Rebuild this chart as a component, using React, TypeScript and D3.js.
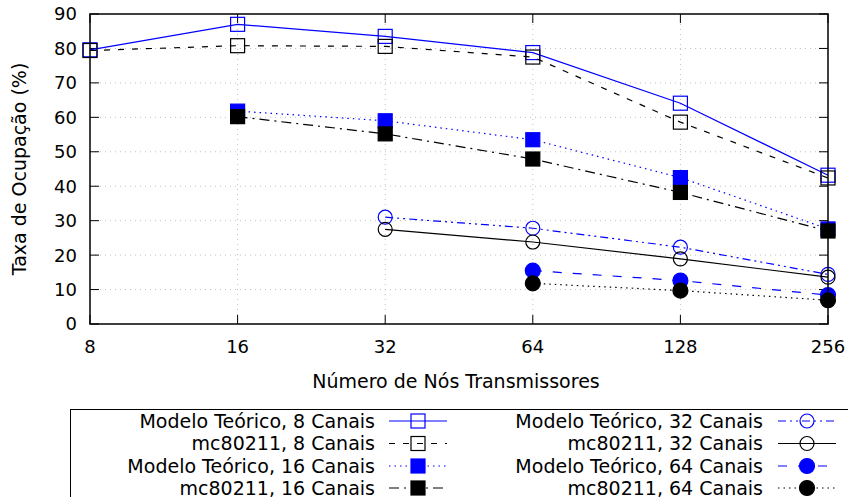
import { useEffect, useRef } from "react";
import * as d3 from "d3";

const nodes = [8, 16, 32, 64, 128, 256];
const yTicks = [0, 10, 20, 30, 40, 50, 60, 70, 80, 90];

const teorico8 = [79.6, 87.0, 83.5, 78.8, 64.1, 43.2];
const mc8 = [79.4, 80.8, 80.6, 77.5, 58.6, 42.4];
const teorico16 = [null, 61.8, 59.0, 53.5, 42.5, 27.6];
const mc16 = [null, 60.2, 55.2, 47.9, 38.2, 27.0];
const teorico32 = [null, null, 31.0, 27.8, 22.3, 14.4];
const mc32 = [null, null, 27.5, 23.8, 18.9, 13.6];
const teorico64 = [null, null, null, 15.5, 12.6, 8.4];
const mc64 = [null, null, null, 11.8, 9.7, 6.9];

const seriesNames = [
  "Modelo Teórico, 8 Canais",
  "mc80211, 8 Canais",
  "Modelo Teórico, 16 Canais",
  "mc80211, 16 Canais",
  "Modelo Teórico, 32 Canais",
  "mc80211, 32 Canais",
  "Modelo Teórico, 64 Canais",
  "mc80211, 64 Canais",
];

const FONT = "'DejaVu Sans', sans-serif";

const styles = [
  { values: teorico8, color: "#0000ff", dash: null, marker: "square", filled: false },
  { values: mc8, color: "#000000", dash: "6,8", marker: "square", filled: false },
  { values: teorico16, color: "#0000ff", dash: "1.5,4", marker: "square", filled: true },
  { values: mc16, color: "#000000", dash: "10,5,2,5", marker: "square", filled: true },
  { values: teorico32, color: "#0000ff", dash: "8,4,2,4,2,4", marker: "circle", filled: false },
  { values: mc32, color: "#000000", dash: null, marker: "circle", filled: false },
  { values: teorico64, color: "#0000ff", dash: "9,11", marker: "circle", filled: true },
  { values: mc64, color: "#000000", dash: "1.5,4", marker: "circle", filled: true },
];

function drawMarker(g, type, filled, color, cx, cy) {
  if (type === "square") {
    g.append("rect")
      .attr("x", cx - 7)
      .attr("y", cy - 7)
      .attr("width", 14)
      .attr("height", 14)
      .attr("fill", filled ? color : "none")
      .attr("stroke", color)
      .attr("stroke-width", 1.2);
  } else {
    g.append("circle")
      .attr("cx", cx)
      .attr("cy", cy)
      .attr("r", filled ? 7.5 : 7)
      .attr("fill", filled ? color : "none")
      .attr("stroke", color)
      .attr("stroke-width", 1.2);
  }
}

function App() {
  const svgRef = useRef(null);

  useEffect(() => {
    const svg = d3.select(svgRef.current);
    svg.selectAll("*").remove();

    const left = 90, right = 828, top = 14, bottom = 324;

    const x = d3.scaleLog().base(2).domain([8, 256]).range([left, right]);
    const y = d3.scaleLinear().domain([0, 90]).range([bottom, top]);

    // grid
    const grid = svg.append("g")
      .attr("stroke", "#c0c0c0")
      .attr("stroke-width", 1)
      .attr("stroke-dasharray", "1,4");
    yTicks.slice(1, -1).forEach((t) => {
      grid.append("line").attr("x1", left).attr("x2", right).attr("y1", y(t)).attr("y2", y(t));
    });
    nodes.slice(1, -1).forEach((t) => {
      grid.append("line").attr("x1", x(t)).attr("x2", x(t)).attr("y1", top).attr("y2", bottom);
    });

    // ticks
    const ticks = svg.append("g").attr("stroke", "#000").attr("stroke-width", 1);
    yTicks.forEach((t) => {
      ticks.append("line").attr("x1", left).attr("x2", left + 9).attr("y1", y(t)).attr("y2", y(t));
      ticks.append("line").attr("x1", right).attr("x2", right - 9).attr("y1", y(t)).attr("y2", y(t));
    });
    nodes.forEach((t) => {
      ticks.append("line").attr("x1", x(t)).attr("x2", x(t)).attr("y1", bottom).attr("y2", bottom - 9);
      ticks.append("line").attr("x1", x(t)).attr("x2", x(t)).attr("y1", top).attr("y2", top + 9);
    });

    // tick labels
    svg.append("g")
      .selectAll("text")
      .data(yTicks)
      .enter()
      .append("text")
      .attr("x", left - 13)
      .attr("y", (d) => y(d))
      .attr("dy", "0.36em")
      .attr("text-anchor", "end")
      .attr("font-family", FONT)
      .attr("font-size", 18)
      .text((d) => d);

    svg.append("g")
      .selectAll("text")
      .data(nodes)
      .enter()
      .append("text")
      .attr("x", (d) => x(d))
      .attr("y", 353)
      .attr("text-anchor", "middle")
      .attr("font-family", FONT)
      .attr("font-size", 18)
      .text((d) => d);

    svg.append("text")
      .attr("x", 456)
      .attr("y", 388)
      .attr("text-anchor", "middle")
      .attr("font-family", FONT)
      .attr("font-size", 19)
      .text("Número de Nós Transmissores");

    svg.append("text")
      .attr("transform", `translate(26, ${(top + bottom) / 2}) rotate(-90)`)
      .attr("text-anchor", "middle")
      .attr("font-family", FONT)
      .attr("font-size", 19)
      .text("Taxa de Ocupação (%)");

    // series
    const line = d3
      .line()
      .x((d) => x(d[0]))
      .y((d) => y(d[1]));

    styles.forEach((s) => {
      const pts = nodes.map((n, i) => [n, s.values[i]]).filter((p) => p[1] != null);
      svg.append("path")
        .datum(pts)
        .attr("fill", "none")
        .attr("stroke", s.color)
        .attr("stroke-width", 1.2)
        .attr("stroke-dasharray", s.dash)
        .attr("d", line);
      const mg = svg.append("g");
      pts.forEach((p) => drawMarker(mg, s.marker, s.filled, s.color, x(p[0]), y(p[1])));
    });

    // frame
    svg.append("rect")
      .attr("x", left)
      .attr("y", top)
      .attr("width", right - left)
      .attr("height", bottom - top)
      .attr("fill", "none")
      .attr("stroke", "#000")
      .attr("stroke-width", 1.5);

    // legend
    svg.append("rect")
      .attr("x", 70.5)
      .attr("y", 409.5)
      .attr("width", 800)
      .attr("height", 120)
      .attr("fill", "none")
      .attr("stroke", "#000")
      .attr("stroke-width", 1);

    const rowY = [421, 443.5, 466, 488];
    const cols = [
      { textX: 375, lineX1: 389, lineX2: 447 },
      { textX: 763, lineX1: 778, lineX2: 836 },
    ];
    styles.forEach((s, i) => {
      const col = cols[Math.floor(i / 4)];
      const ry = rowY[i % 4];
      const lg = svg.append("g");
      lg.append("text")
        .attr("x", col.textX)
        .attr("y", ry)
        .attr("dy", "0.36em")
        .attr("text-anchor", "end")
        .attr("font-family", FONT)
        .attr("font-size", 19)
        .text(seriesNames[i]);
      lg.append("line")
        .attr("x1", col.lineX1)
        .attr("x2", col.lineX2)
        .attr("y1", ry)
        .attr("y2", ry)
        .attr("stroke", s.color)
        .attr("stroke-width", 1.2)
        .attr("stroke-dasharray", s.dash);
      drawMarker(lg, s.marker, s.filled, s.color, (col.lineX1 + col.lineX2) / 2, ry);
    });
  }, []);

  return (
    <svg
      ref={svgRef}
      width={848}
      height={497}
      style={{ position: "fixed", left: 0, top: 0, background: "#fff" }}
      role="img"
      aria-label="Taxa de ocupação vs número de nós"
    />
  );
}

export default App;
